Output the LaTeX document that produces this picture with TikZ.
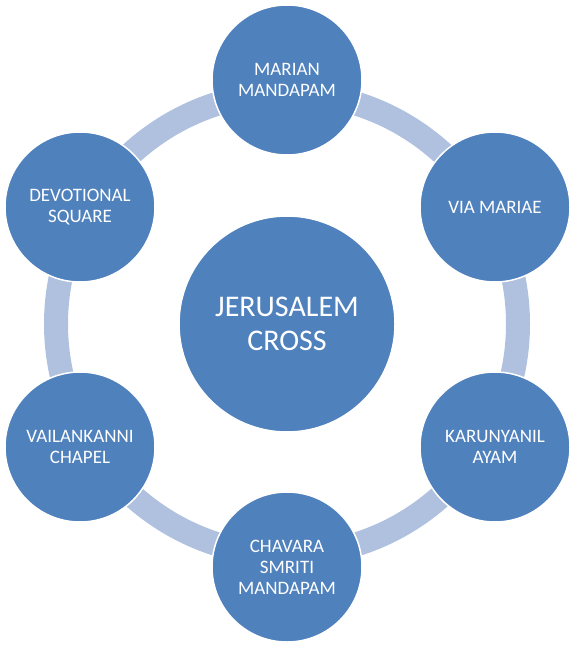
\documentclass[tikz,border=0pt]{standalone}
\usepackage{fontspec}
\setmainfont{Carlito}
\usetikzlibrary{calc}

\begin{document}
\begin{tikzpicture}[x=1pt,y=-1pt,
  spot/.style={circle, fill=spotblue, draw=white, line width=1.5pt,
    minimum size=150pt, inner sep=0pt, text=white, align=center,
    font=\fontsize{19}{21}\selectfont},
  hubspot/.style={spot, minimum size=216pt,
    font=\fontsize{30}{34}\selectfont}]

% Office style blues
\definecolor{spotblue}{RGB}{79,129,189}
\definecolor{ringblue}{RGB}{175,193,223}

\useasboundingbox (0,0) rectangle (575,647);

% Ring behind the circles
\coordinate (hub) at (287,324);
\draw[ringblue, line width=24pt] (hub) circle (231);

% Centre circle
\node[hubspot] (cross) at (hub) {JERUSALEM\\CROSS};

% Outer circles
\node[spot] (marian) at (287,80) {MARIAN\\MANDAPAM};
\node[spot] (via) at (495,207) {VIA MARIAE};
\node[spot] (karuna) at (495,447) {KARUNYANIL\\AYAM};
\node[spot] (chavara) at (287,567) {CHAVARA\\SMRITI\\MANDAPAM};
\node[spot] (chapel) at (80,447) {VAILANKANNI\\CHAPEL};
\node[spot] (square) at (80,207) {DEVOTIONAL\\SQUARE};

\end{tikzpicture}
\end{document}
